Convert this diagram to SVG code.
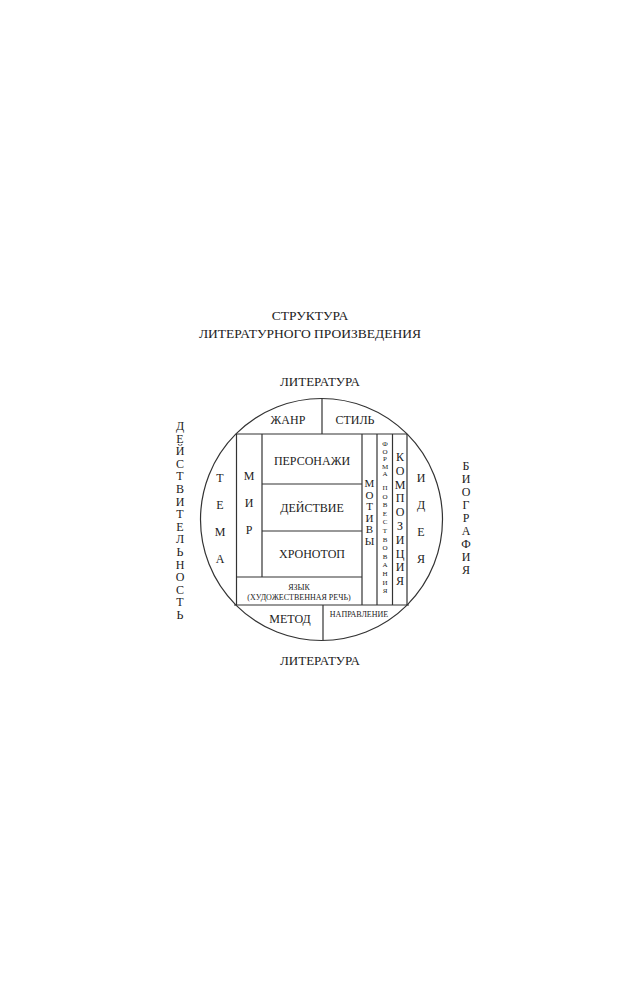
<svg xmlns="http://www.w3.org/2000/svg" width="619" height="1000" viewBox="0 0 619 1000">
<style>
text{font-family:"Liberation Serif","DejaVu Serif",serif;fill:#222;text-anchor:middle}
.t{font-size:13.5px}
.m{font-size:12px}
.lt{font-size:13px}
.s{font-size:8px}
.xs{font-size:7px}
.n{font-size:11px}
.v{font-size:12px}
.l{stroke:#333;stroke-width:1.2;fill:none}
</style>
<rect width="619" height="1000" fill="#fff"/>
<g id="title">
<text class="t" x="310" y="320">СТРУКТУРА</text>
<text class="t" x="310" y="338">ЛИТЕРАТУРНОГО ПРОИЗВЕДЕНИЯ</text>
</g>
<g id="lit-top"><text class="lt" x="320" y="386">ЛИТЕРАТУРА</text></g>
<g id="lit-bottom"><text class="lt" x="320" y="665">ЛИТЕРАТУРА</text></g>
<g id="deystvitelnost"><text class="v" x="180" y="430">
<tspan x="180" dy="0">Д</tspan><tspan x="180" dy="12.6">Е</tspan><tspan x="180" dy="12.6">Й</tspan><tspan x="180" dy="12.6">С</tspan><tspan x="180" dy="12.6">Т</tspan><tspan x="180" dy="12.6">В</tspan><tspan x="180" dy="12.6">И</tspan><tspan x="180" dy="12.6">Т</tspan><tspan x="180" dy="12.6">Е</tspan><tspan x="180" dy="12.6">Л</tspan><tspan x="180" dy="12.6">Ь</tspan><tspan x="180" dy="12.6">Н</tspan><tspan x="180" dy="12.6">О</tspan><tspan x="180" dy="12.6">С</tspan><tspan x="180" dy="12.6">Т</tspan><tspan x="180" dy="12.6">Ь</tspan></text></g>
<g id="biografiya"><text class="v" x="466" y="470">
<tspan x="466" dy="0">Б</tspan><tspan x="466" dy="13">И</tspan><tspan x="466" dy="13">О</tspan><tspan x="466" dy="13">Г</tspan><tspan x="466" dy="13">Р</tspan><tspan x="466" dy="13">А</tspan><tspan x="466" dy="13">Ф</tspan><tspan x="466" dy="13">И</tspan><tspan x="466" dy="13">Я</tspan></text></g>
<g id="connectors">
<circle class="l" cx="321.5" cy="519.5" r="121"/>
<line class="l" x1="236" y1="434" x2="407" y2="434"/>
<line class="l" x1="234" y1="605" x2="409" y2="605"/>
<line class="l" x1="236.5" y1="434" x2="236.5" y2="605"/>
<line class="l" x1="407" y1="434" x2="407" y2="605"/>
<line class="l" x1="322" y1="398.5" x2="322" y2="434"/>
<line class="l" x1="323" y1="605" x2="323" y2="640.5"/>
<line class="l" x1="262" y1="434" x2="262" y2="577"/>
<line class="l" x1="362" y1="434" x2="362" y2="605"/>
<line class="l" x1="377" y1="434" x2="377" y2="605"/>
<line class="l" x1="392.5" y1="434" x2="392.5" y2="605"/>
<line class="l" x1="262" y1="484" x2="362" y2="484"/>
<line class="l" x1="262" y1="531" x2="362" y2="531"/>
<line class="l" x1="236.5" y1="577" x2="362" y2="577"/>
</g>
<g id="zhanr"><text class="m" x="288" y="424">ЖАНР</text></g>
<g id="stil"><text class="m" x="355" y="424">СТИЛЬ</text></g>
<g id="tema"><text class="v" x="220" y="482">
<tspan x="220" dy="0">Т</tspan><tspan x="220" dy="27">Е</tspan><tspan x="220" dy="27">М</tspan><tspan x="220" dy="27">А</tspan></text></g>
<g id="mir"><text class="v" x="249" y="480">
<tspan x="249" dy="0">М</tspan><tspan x="249" dy="27">И</tspan><tspan x="249" dy="27">Р</tspan></text></g>
<g id="personazhi"><text class="m" x="312" y="465">ПЕРСОНАЖИ</text></g>
<g id="deystvie"><text class="m" x="312" y="512">ДЕЙСТВИЕ</text></g>
<g id="hronotop"><text class="m" x="312" y="558">ХРОНОТОП</text></g>
<g id="yazyk"><text class="s" x="299" y="590">ЯЗЫК</text><text class="s" x="299" y="600">(ХУДОЖЕСТВЕННАЯ РЕЧЬ)</text></g>
<g id="motivy"><text class="n" x="369.5" y="487">
<tspan x="369.5" dy="0">М</tspan><tspan x="369.5" dy="11.5">О</tspan><tspan x="369.5" dy="11.5">Т</tspan><tspan x="369.5" dy="11.5">И</tspan><tspan x="369.5" dy="11.5">В</tspan><tspan x="369.5" dy="11.5">Ы</tspan></text></g>
<g id="forma"><text class="xs" x="385" y="446">
<tspan x="385" dy="0">Ф</tspan><tspan x="385" dy="7.5">О</tspan><tspan x="385" dy="7.5">Р</tspan><tspan x="385" dy="7.5">М</tspan><tspan x="385" dy="7.5">А</tspan><tspan x="385" dy="14">П</tspan><tspan x="385" dy="8.6">О</tspan><tspan x="385" dy="8.6">В</tspan><tspan x="385" dy="8.6">Е</tspan><tspan x="385" dy="8.6">С</tspan><tspan x="385" dy="8.6">Т</tspan><tspan x="385" dy="8.6">В</tspan><tspan x="385" dy="8.6">О</tspan><tspan x="385" dy="8.6">В</tspan><tspan x="385" dy="8.6">А</tspan><tspan x="385" dy="8.6">Н</tspan><tspan x="385" dy="8.6">И</tspan><tspan x="385" dy="8.6">Я</tspan></text></g>
<g id="kompoziciya"><text class="m" x="400" y="461">
<tspan x="400" dy="0">К</tspan><tspan x="400" dy="13.8">О</tspan><tspan x="400" dy="13.8">М</tspan><tspan x="400" dy="13.8">П</tspan><tspan x="400" dy="13.8">О</tspan><tspan x="400" dy="13.8">З</tspan><tspan x="400" dy="13.8">И</tspan><tspan x="400" dy="13.8">Ц</tspan><tspan x="400" dy="13.8">И</tspan><tspan x="400" dy="13.8">Я</tspan></text></g>
<g id="ideya"><text class="v" x="421" y="482">
<tspan x="421" dy="0">И</tspan><tspan x="421" dy="27">Д</tspan><tspan x="421" dy="27">Е</tspan><tspan x="421" dy="27">Я</tspan></text></g>
<g id="metod"><text class="m" x="290" y="623">МЕТОД</text></g>
<g id="napravlenie"><text class="s" x="359" y="617">НАПРАВЛЕНИЕ</text></g>
</svg>
